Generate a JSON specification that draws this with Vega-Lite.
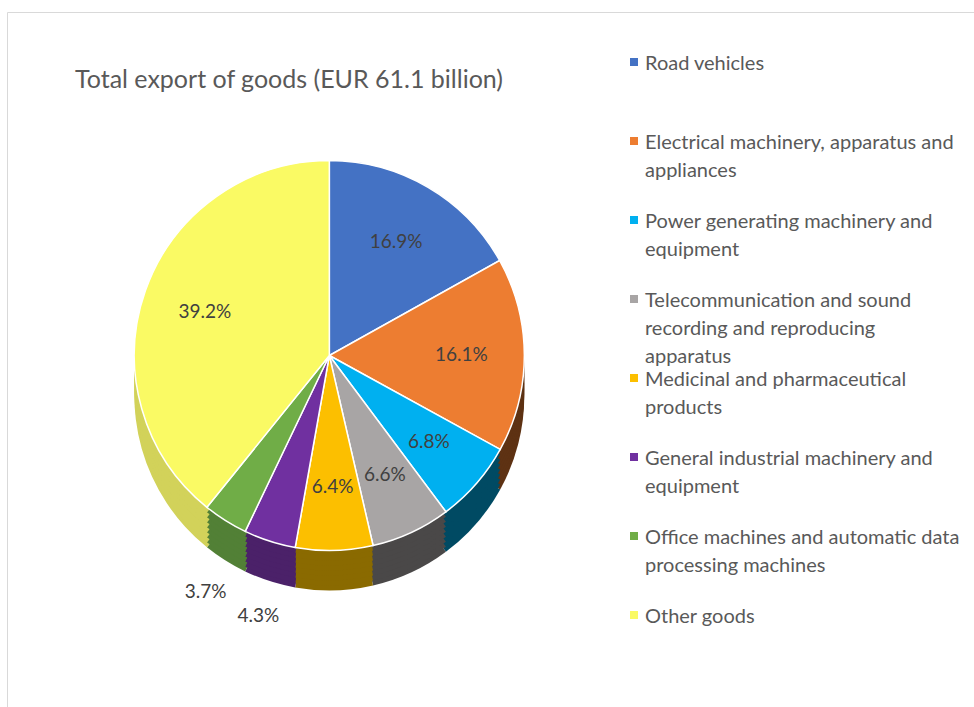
{
  "$schema": "https://vega.github.io/schema/vega-lite/v6.json",
  "width": 967,
  "height": 695,
  "autosize": "none",
  "padding": {"left": 7, "top": 12, "right": 0, "bottom": 0},
  "background": "white",
  "view": {"stroke": "#d9d9d9", "strokeWidth": 1},
  "title": {
    "text": "Total export of goods (EUR 61.1 billion)",
    "anchor": "start",
    "offset": 0,
    "dx": 68,
    "dy": 81,
    "font": "Lato",
    "fontSize": 25,
    "fontWeight": "normal",
    "color": "#595959"
  },
  "config": {
    "font": "Lato",
    "style": {"guide-label": {"lineHeight": 28, "dy": -8}}
  },
  "data": {
    "values": [
      {"category": "Road vehicles", "share": 0.169, "rank": 1},
      {"category": "Electrical machinery, apparatus and appliances", "share": 0.161, "rank": 2},
      {"category": "Power generating machinery and equipment", "share": 0.068, "rank": 3},
      {"category": "Telecommunication and sound recording and reproducing apparatus", "share": 0.066, "rank": 4},
      {"category": "Medicinal and pharmaceutical products", "share": 0.064, "rank": 5},
      {"category": "General industrial machinery and equipment", "share": 0.043, "rank": 6},
      {"category": "Office machines and automatic data processing machines", "share": 0.037, "rank": 7},
      {"category": "Other goods", "share": 0.392, "rank": 8}
    ]
  },
  "encoding": {
    "theta": {"field": "share", "type": "quantitative", "stack": true},
    "order": {"field": "rank", "type": "quantitative"}
  },
  "layer": [
    {
      "mark": {"type": "arc", "x": {"expr": "width/3"}, "y": {"expr": "height/2 + 36"}, "radius": 195, "strokeWidth": 0},
      "encoding": {
        "fill": {"field": "category", "type": "nominal", "legend": null, "sort": {"field": "rank", "op": "min"},
          "scale": {"range": ["#2b4a80", "#5e3213", "#004a63", "#4a4848", "#8a6a00", "#4b2169", "#528036", "#d2d25a"]}}
      }
    },
    {
      "mark": {"type": "arc", "x": {"expr": "width/3"}, "y": {"expr": "height/2 + 31"}, "radius": 195, "strokeWidth": 0},
      "encoding": {"fill": {"field": "category", "type": "nominal", "legend": null, "sort": {"field": "rank", "op": "min"}}}
    },
    {
      "mark": {"type": "arc", "x": {"expr": "width/3"}, "y": {"expr": "height/2 + 26"}, "radius": 195, "strokeWidth": 0},
      "encoding": {"fill": {"field": "category", "type": "nominal", "legend": null, "sort": {"field": "rank", "op": "min"}}}
    },
    {
      "mark": {"type": "arc", "x": {"expr": "width/3"}, "y": {"expr": "height/2 + 21"}, "radius": 195, "strokeWidth": 0},
      "encoding": {"fill": {"field": "category", "type": "nominal", "legend": null, "sort": {"field": "rank", "op": "min"}}}
    },
    {
      "mark": {"type": "arc", "x": {"expr": "width/3"}, "y": {"expr": "height/2 + 16"}, "radius": 195, "strokeWidth": 0},
      "encoding": {"fill": {"field": "category", "type": "nominal", "legend": null, "sort": {"field": "rank", "op": "min"}}}
    },
    {
      "mark": {"type": "arc", "x": {"expr": "width/3"}, "y": {"expr": "height/2 + 11"}, "radius": 195, "strokeWidth": 0},
      "encoding": {"fill": {"field": "category", "type": "nominal", "legend": null, "sort": {"field": "rank", "op": "min"}}}
    },
    {
      "mark": {"type": "arc", "x": {"expr": "width/3"}, "y": {"expr": "height/2 + 6"}, "radius": 195, "strokeWidth": 0},
      "encoding": {"fill": {"field": "category", "type": "nominal", "legend": null, "sort": {"field": "rank", "op": "min"}}}
    },
    {
      "mark": {"type": "arc", "x": {"expr": "width/3"}, "y": {"expr": "height/2 + 1"}, "radius": 195, "strokeWidth": 0},
      "encoding": {"fill": {"field": "category", "type": "nominal", "legend": null, "sort": {"field": "rank", "op": "min"}}}
    },
    {
      "mark": {"type": "arc", "x": {"expr": "width/3"}, "y": {"expr": "height/2 - 4"}, "radius": 195, "stroke": "white", "strokeWidth": 1.5},
      "encoding": {
        "color": {"field": "category", "type": "nominal",
          "scale": {"domain": ["Road vehicles", "Electrical machinery, apparatus and appliances", "Power generating machinery and equipment", "Telecommunication and sound recording and reproducing apparatus", "Medicinal and pharmaceutical products", "General industrial machinery and equipment", "Office machines and automatic data processing machines", "Other goods"],
            "range": ["#4472C4", "#ED7D31", "#00B0F0", "#A8A5A5", "#FCBF00", "#7030A0", "#70AD47", "#FAFA64"]},
          "legend": {
            "orient": "none",
            "legendX": 617,
            "legendY": 40,
            "title": null,
            "direction": "vertical",
            "padding": 0,
            "symbolType": "square",
            "symbolSize": 64,
            "symbolStrokeWidth": 0,
            "labelFont": "Lato",
            "labelFontSize": 20,
            "labelColor": "#595959",
            "labelLimit": 400,
            "labelOffset": 1,
            "labelBaseline": "top",
            "rowPadding": 1,
            "labelExpr": "datum.label == 'Electrical machinery, apparatus and appliances' ? ['Electrical machinery, apparatus and', 'appliances', ''] : datum.label == 'Power generating machinery and equipment' ? ['Power generating machinery and', 'equipment', ''] : datum.label == 'Telecommunication and sound recording and reproducing apparatus' ? ['Telecommunication and sound', 'recording and reproducing', 'apparatus'] : datum.label == 'Medicinal and pharmaceutical products' ? ['Medicinal and pharmaceutical', 'products', ''] : datum.label == 'General industrial machinery and equipment' ? ['General industrial machinery and', 'equipment', ''] : datum.label == 'Office machines and automatic data processing machines' ? ['Office machines and automatic data', 'processing machines', ''] : [datum.label, '', '']"
          }
        }
      }
    },
    {
      "mark": {"type": "text", "x": {"expr": "width/3"}, "y": {"expr": "height/2 - 4"}, "radius": 132, "font": "Lato", "fontSize": 19, "fill": "#404040"},
      "encoding": {
        "text": {"field": "share", "type": "quantitative", "format": ".1%", "condition": {"test": "datum.share < 0.05", "value": ""}}
      }
    },
    {
      "mark": {"type": "text", "x": {"expr": "width/3"}, "y": {"expr": "height/2 + 36"}, "radius": 232, "font": "Lato", "fontSize": 19, "fill": "#404040"},
      "encoding": {
        "text": {"field": "share", "type": "quantitative", "format": ".1%", "condition": {"test": "datum.share >= 0.05", "value": ""}}
      }
    }
  ]
}
